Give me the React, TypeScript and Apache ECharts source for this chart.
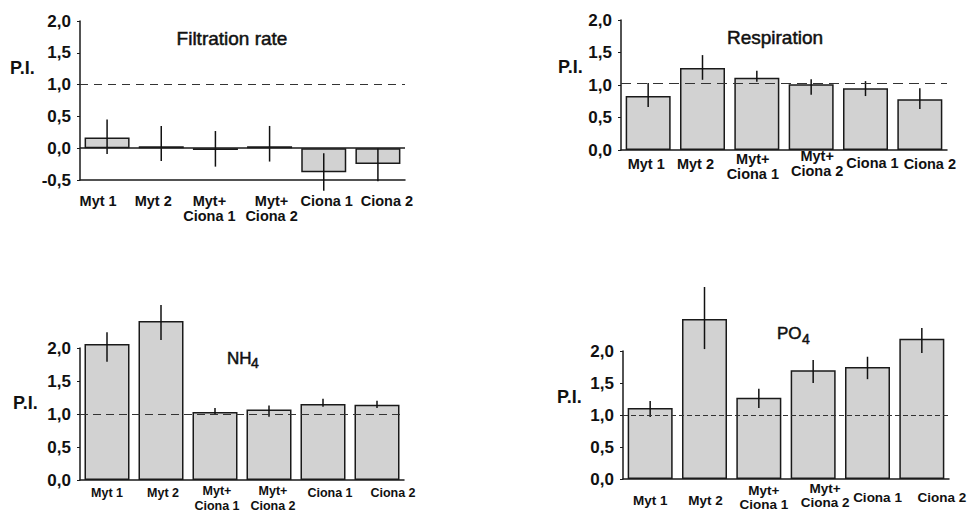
import React, { useEffect, useRef } from "react";
import * as echarts from "echarts";

const categories = ["Myt 1", "Myt 2", "Myt+\nCiona 1", "Myt+\nCiona 2", "Ciona 1", "Ciona 2"];

const filtration = [0.17, 0.03, -0.03, 0.03, -0.38, -0.25];
const filtrationLow = [-0.09, -0.2, -0.29, -0.21, -0.67, -0.52];
const filtrationHigh = [0.45, 0.35, 0.27, 0.35, -0.08, 0.0];

const respiration = [0.83, 1.26, 1.11, 1.01, 0.95, 0.78];
const respirationLow = [0.66, 1.08, 1.05, 0.85, 0.83, 0.63];
const respirationHigh = [1.03, 1.46, 1.22, 1.09, 1.06, 0.95];

const nh4 = [2.06, 2.41, 1.03, 1.07, 1.15, 1.14];
const nh4Low = [1.79, 2.12, 1.0, 0.96, 1.11, 1.09];
const nh4High = [2.24, 2.65, 1.09, 1.13, 1.23, 1.2];

const po4 = [1.11, 2.5, 1.27, 1.7, 1.75, 2.19];
const po4Low = [0.97, 2.03, 1.11, 1.5, 1.56, 1.97];
const po4High = [1.22, 3.0, 1.41, 1.86, 1.91, 2.36];

const refValues = [1.0, 1.02, 1.0, 1.0];

const FONT = "'Liberation Sans', Arial, sans-serif";
const INK = "#1a1a1a";

export default function App() {
  const ref = useRef<HTMLDivElement>(null);
  useEffect(() => {
    if (!ref.current) return;
    const chart = echarts.init(ref.current, null, { renderer: "svg" });

    const grids = [
      { left: 80, top: 21, width: 325, height: 159, outerBoundsMode: "none" },
      { left: 621, top: 20, width: 326, height: 130, outerBoundsMode: "none" },
      { left: 80, top: 348, width: 324, height: 132, outerBoundsMode: "none" },
      { left: 623, top: 351, width: 326, height: 128, outerBoundsMode: "none" },
    ];
    const yRanges = [
      [-0.5, 2.0],
      [0, 2.0],
      [0, 2.0],
      [0, 2.0],
    ];
    const labelMargins = [13, -2, 4, 2];
    const labelSizes = [14.5, 14.5, 12.5, 13.5];
    const secondLineGap = [0, 0, 2, 0];
    // per-label horizontal / vertical nudges (layout only)
    const labelDx = [
      [-9, -8, -6, 2, 3, 9],
      [-2, -7, -4, 6, 7, 10],
      [0, 2, 2, 4, 7, 16],
      [0, 1, 5, 12, 10, 20],
    ];
    const labelDy = [
      [0, 0, 0, 0, 0, 0],
      [8, 8, 3, 0, 7, 8],
      [2, 2, 0, 0, 2, 2],
      [12, 12, 2, 0, 9, 9],
    ];
    const dashes = [[8, 6], [10, 6], [8, 5], [5, 3]];
    const vals = [filtration, respiration, nh4, po4];
    const lows = [filtrationLow, respirationLow, nh4Low, po4Low];
    const highs = [filtrationHigh, respirationHigh, nh4High, po4High];

    const xAxis = grids.map((_, i) => {
      const baseTok = {
        fontFamily: FONT,
        fontWeight: "bold",
        fontSize: labelSizes[i],
        color: "#111",
      };
      const rich: any = {};
      categories.forEach((_c, k) => {
        const dx = labelDx[i][k];
        const padL = dx > 0 ? 2 * dx : 0;
        const padR = dx < 0 ? -2 * dx : 0;
        rich[`a${k}`] = { ...baseTok, padding: [labelDy[i][k], padR, 0, padL] };
        rich[`b${k}`] = { ...baseTok, padding: [secondLineGap[i], padR, 0, padL] };
      });
      return {
        type: "category",
        gridIndex: i,
        data: categories,
        axisLine: { onZero: false, lineStyle: { color: INK, width: 1.5 } },
        axisTick: { show: false },
        axisLabel: {
          margin: labelMargins[i],
          ...baseTok,
          interval: 0,
          hideOverlap: false,
          formatter: (value: string, idx: number) =>
            value
              .split("\n")
              .map((line, li) => `{${li === 0 ? "a" : "b"}${idx}|${line}}`)
              .join("\n"),
          rich,
        },
      };
    });

    const yAxis = grids.map((_, i) => ({
      type: "value",
      gridIndex: i,
      min: yRanges[i][0],
      max: yRanges[i][1],
      interval: 0.5,
      splitLine: { show: false },
      axisLine: { show: true, lineStyle: { color: INK, width: 1.5 } },
      axisTick: { show: true, length: 3, lineStyle: { color: INK, width: 1 } },
      axisLabel: {
        margin: 9,
        fontFamily: FONT,
        fontWeight: "bold",
        fontSize: 17,
        color: "#111",
        formatter: (v: number) => v.toFixed(1).replace(".", ","),
      },
    }));

    const series: any[] = [];
    grids.forEach((_, i) => {
      series.push({
        type: "bar",
        xAxisIndex: i,
        yAxisIndex: i,
        data: vals[i],
        barWidth: 45,
        clip: false,
        z: 2,
        itemStyle: { color: "#d2d2d2", borderColor: INK, borderWidth: 1.5 },
      });
      const mlData: any[] = [
        { yAxis: refValues[i], lineStyle: { type: dashes[i], color: "#333", width: 1.2 } },
      ];
      if (i === 0) {
        mlData.push({ yAxis: 0, lineStyle: { type: "solid", color: INK, width: 1.5 } });
      }
      series.push({
        type: "custom",
        xAxisIndex: i,
        yAxisIndex: i,
        clip: false,
        z: 3,
        data: lows[i].map((l, k) => [k, l, highs[i][k]]),
        encode: { x: 0, y: [1, 2] },
        renderItem: (params: any, api: any) => {
          const x = api.value(0);
          const lo = api.coord([x, api.value(1)]);
          const hi = api.coord([x, api.value(2)]);
          return {
            type: "line",
            shape: { x1: lo[0], y1: lo[1], x2: hi[0], y2: hi[1] },
            style: { stroke: "#111", lineWidth: 1.5 },
          };
        },
        markLine: {
          silent: true,
          symbol: "none",
          label: { show: false },
          data: mlData,
        },
      });
    });

    const txt = (
      text: string,
      x: number,
      y: number,
      size: number,
      bold: boolean,
      align = "left",
      thicken = 0
    ) => ({
      type: "text",
      x,
      y,
      style: {
        text,
        fontFamily: FONT,
        fontSize: size,
        fontWeight: bold ? "bold" : "normal",
        fill: "#111",
        stroke: thicken ? "#111" : undefined,
        lineWidth: thicken,
        align,
        verticalAlign: "middle",
      },
    });

    chart.setOption({
      animation: false,
      backgroundColor: "#ffffff",
      grid: grids,
      xAxis,
      yAxis,
      series,
      graphic: [
        txt("Filtration rate", 232, 38, 19, false, "center", 0.5),
        txt("Respiration", 775, 37, 19, false, "center", 0.5),
        txt("NH", 227, 358, 17, false, "left", 0.5),
        txt("4", 251, 363, 14, false, "left", 0.5),
        txt("PO", 777, 333, 17, false, "left", 0.5),
        txt("4", 802, 339, 14, false, "left", 0.5),
        txt("P.I.", 10, 68, 18, true),
        txt("P.I.", 558, 67, 18, true),
        txt("P.I.", 13, 403, 18, true),
        txt("P.I.", 557, 397, 18, true),
      ],
    });

    return () => chart.dispose();
  }, []);

  return (
    <div
      ref={ref}
      style={{ position: "absolute", left: 0, top: 0, width: 971, height: 514, background: "#fff" }}
    />
  );
}
